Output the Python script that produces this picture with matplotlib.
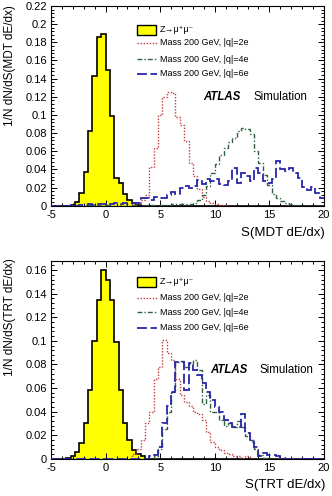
import numpy as np
import matplotlib
matplotlib.use("Agg")
import matplotlib.pyplot as plt
from matplotlib.lines import Line2D
from matplotlib.patches import Rectangle
from matplotlib.ticker import MultipleLocator

plt.rcParams['font.family'] = ['Liberation Sans', 'DejaVu Sans']
plt.rcParams['axes.unicode_minus'] = False

# ---------------- data ----------------
bin_width = 0.4
edge_lo = -5.2
n_bins = 64

# MDT panel (start = lower edge of first listed bin)
z_mdt_start = -3.2
z_mdt = [0.001, 0.0037, 0.0137, 0.0366, 0.082, 0.143, 0.186, 0.189, 0.150, 0.099,
         0.030, 0.025, 0.013, 0.006, 0.003, 0.001]
q2_mdt_start = 2.4
q2_mdt = [0.001, 0.002, 0.006, 0.012, 0.043, 0.064, 0.100, 0.120, 0.125, 0.124,
          0.098, 0.089, 0.071, 0.047, 0.033, 0.018, 0.0095, 0.005, 0.003, 0.002,
          0.001, 0.001]
q4_mdt_start = -3.2
q4_mdt = [0.0, 0.001, 0.0, 0.0, 0.001, 0.0, 0.001, 0.0, 0.001, 0.0, 0.0, 0.001, 0.0,
          0.0, 0.001, 0.0, 0.0, 0.001, 0.001, 0.0, 0.001, 0.001, 0.001, 0.002, 0.002,
          0.002, 0.002, 0.002, 0.003, 0.006, 0.012, 0.022, 0.036, 0.046, 0.056, 0.064,
          0.070, 0.075, 0.082, 0.086, 0.084, 0.079, 0.060, 0.047, 0.034, 0.023, 0.013,
          0.008, 0.005, 0.003, 0.002, 0.001]
q6_mdt_start = -3.2
q6_mdt = [0.001, 0.0, 0.001, 0.001, 0.002, 0.001, 0.002, 0.002, 0.001, 0.002, 0.003,
          0.002, 0.003, 0.002, 0.003, 0.003, 0.008, 0.008, 0.006, 0.010, 0.009, 0.008,
          0.012, 0.015, 0.013, 0.019, 0.022, 0.019, 0.022, 0.028, 0.024, 0.029, 0.027,
          0.029, 0.024, 0.023, 0.027, 0.041, 0.025, 0.036, 0.033, 0.027, 0.041, 0.036,
          0.027, 0.025, 0.029, 0.049, 0.040, 0.038, 0.041, 0.036, 0.030, 0.021, 0.017,
          0.021, 0.014, 0.008, 0.008]

# TRT panel
z_trt_start = -3.6
z_trt = [0.001, 0.0023, 0.006, 0.013, 0.030, 0.058, 0.0998, 0.135, 0.160, 0.152,
         0.135, 0.099, 0.058, 0.030, 0.016, 0.0075, 0.004, 0.002]
q2_trt_start = 2.4
q2_trt = [0.004, 0.008, 0.016, 0.030, 0.040, 0.068, 0.078, 0.101, 0.090, 0.084,
          0.068, 0.054, 0.048, 0.045, 0.040, 0.038, 0.033, 0.023, 0.014, 0.010,
          0.007, 0.005, 0.004, 0.002, 0.002, 0.001, 0.002]
q4_trt_start = 4.4
q4_trt = [0.002, 0.008, 0.025, 0.040, 0.057, 0.082, 0.083, 0.078, 0.080, 0.084,
          0.075, 0.046, 0.054, 0.040, 0.040, 0.033, 0.028, 0.030, 0.027, 0.032,
          0.027, 0.019, 0.016, 0.008, 0.003, 0.001, 0.001]
q6_trt_start = 4.0
q6_trt = [0.002, 0.003, 0.010, 0.030, 0.045, 0.057, 0.082, 0.082, 0.058, 0.081,
          0.075, 0.071, 0.064, 0.057, 0.050, 0.044, 0.040, 0.033, 0.030, 0.027,
          0.027, 0.038, 0.022, 0.014, 0.010, 0.002, 0.005, 0.003, 0.003, 0.002,
          0.001]

labels = ["Z\u2192\u03bc\u207a\u03bc\u207b", "Mass 200 GeV, |q|=2e",
          "Mass 200 GeV, |q|=4e", "Mass 200 GeV, |q|=6e"]
xlabels = ["S(MDT dE/dx)", "S(TRT dE/dx)"]
ylabels = ["1/N dN/dS(MDT dE/dx)", "1/N dN/dS(TRT dE/dx)"]
ymax = [0.22, 0.168]

edges = edge_lo + bin_width * np.arange(n_bins + 1)


def full(start, vals):
    arr = np.zeros(n_bins)
    i0 = int(round((start - edge_lo) / bin_width))
    arr[i0:i0 + len(vals)] = vals
    return arr


panels = [
    (full(z_mdt_start, z_mdt), full(q2_mdt_start, q2_mdt),
     full(q4_mdt_start, q4_mdt), full(q6_mdt_start, q6_mdt)),
    (full(z_trt_start, z_trt), full(q2_trt_start, q2_trt),
     full(q4_trt_start, q4_trt), full(q6_trt_start, q6_trt)),
]

# ---------------- style ----------------
W, H = 332, 496
fig = plt.figure(figsize=(W / 100, H / 100), dpi=100)

c_red = "#c04040"
c_green = "#2f6040"
c_blue = "#2828a8"
ls_red = (0, (1.0, 1.2))
ls_green = (0, (3.5, 1.5, 1.0, 1.5))
ls_blue = (0, (5.5, 2.0))


def fx(px):
    return px / W


def fy(py):
    return 1 - py / H


ax_boxes = [(51, 324, 6, 205.7), (51, 324, 260.7, 458.7)]
legend_y = [(29.5, 42.7, 59.3, 74.0), (281.5, 298.0, 312.3, 328.0)]
atlas_xy = [(203, 253, 96.7), (210, 259, 369.7)]
xlab_y = [233, 485]
ylab_top = [5, 258]

for k in range(2):
    l, r, t, b = ax_boxes[k]
    ax = fig.add_axes([fx(l), fy(b), fx(r - l), (b - t) / H])
    z, q2, q4, q6 = panels[k]
    ax.stairs(z, edges, fill=True, color="#ffff00", zorder=1)
    ax.stairs(z, edges, color="black", lw=1.2, zorder=2)
    ax.stairs(q2, edges, color=c_red, lw=1.0, linestyle=ls_red, zorder=3)
    ax.stairs(q4, edges, color=c_green, lw=1.0, linestyle=ls_green, zorder=3)
    ax.stairs(q6, edges, color=c_blue, lw=1.3, linestyle=ls_blue, zorder=4)
    ax.set_xlim(-5, 20)
    ax.set_ylim(0, ymax[k])
    ax.xaxis.set_major_locator(MultipleLocator(5))
    ax.xaxis.set_minor_locator(MultipleLocator(1))
    ax.yaxis.set_major_locator(MultipleLocator(0.02))
    ax.yaxis.set_minor_locator(MultipleLocator(0.004))
    ax.tick_params(which="both", direction="in", top=True, right=True,
                   labelsize=8, width=0.7)
    ax.tick_params(axis="x", pad=3)
    ax.tick_params(axis="y", pad=3)
    ax.tick_params(which="major", length=4)
    ax.tick_params(which="minor", length=2)
    ax.yaxis.set_major_formatter(plt.FuncFormatter(
        lambda v, p: "0" if abs(v) < 1e-9 else ("%g" % round(v, 3))))
    for s in ax.spines.values():
        s.set_linewidth(0.8)

    # axis titles
    fig.text(fx(325), fy(xlab_y[k]), xlabels[k], ha="right", va="center",
             fontsize=9.5)
    fig.text(fx(10), fy(ylab_top[k]), ylabels[k], ha="center", va="top",
             rotation=90, fontsize=8.5)

    # legend
    ly = legend_y[k]
    fig.add_artist(Rectangle((fx(137), fy(ly[0] + 5)), fx(19), 10 / H,
                             transform=fig.transFigure, facecolor="#ffff00",
                             edgecolor="black", lw=1.0))
    for yy, col, ls, lw in [(ly[1], c_red, ls_red, 1.0),
                            (ly[2], c_green, ls_green, 1.0),
                            (ly[3], c_blue, ls_blue, 1.3)]:
        fig.add_artist(Line2D([fx(137), fx(157)], [fy(yy), fy(yy)],
                              transform=fig.transFigure, color=col,
                              linestyle=ls, lw=lw))
    for yy, lab in zip(ly, labels):
        fig.text(fx(160), fy(yy), lab, ha="left", va="center", fontsize=6.5)

    ax_x, sim_x, ay = atlas_xy[k]
    fig.text(fx(ax_x), fy(ay), "ATLAS", ha="left", va="center", fontsize=8.3,
             fontweight="bold", fontstyle="italic")
    fig.text(fx(sim_x), fy(ay), "Simulation", ha="left", va="center",
             fontsize=8.3)

fig.savefig("out.png", dpi=100)
